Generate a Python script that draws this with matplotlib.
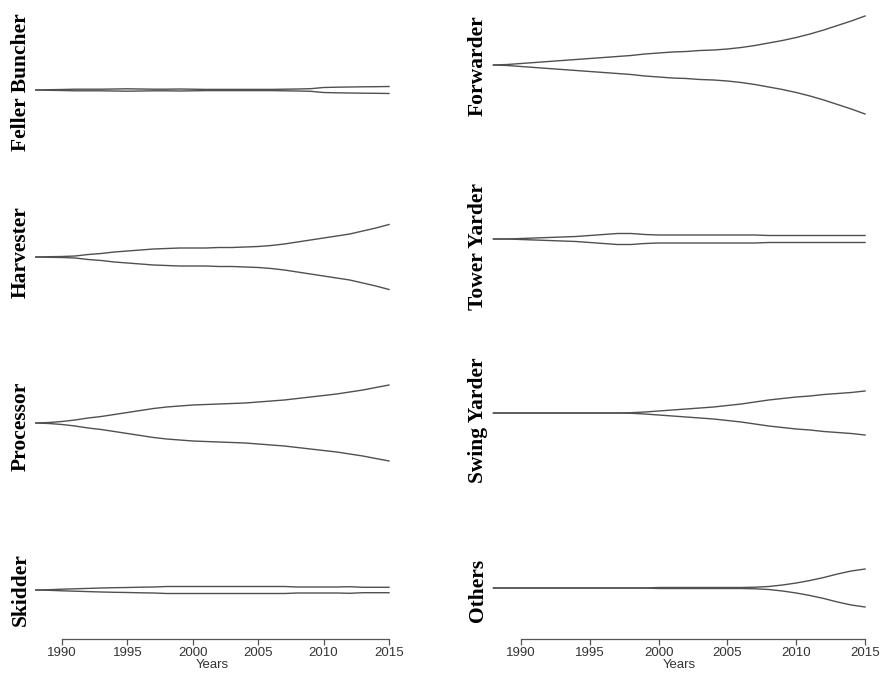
import numpy as np
import matplotlib
matplotlib.use("Agg")
import matplotlib.pyplot as plt

# Half-widths of each mirrored band (pixel-ish units)
years = list(range(1988, 2016))

feller_buncher = [0, 0.3, 0.5, 0.8, 0.8, 0.8, 1, 1.2, 1, 0.8, 0.8, 1, 0.8, 0.6,
                  0.6, 0.6, 0.6, 0.6, 0.6, 0.8, 1, 1.3, 2.5, 2.8, 3, 3.2, 3.3, 3.5]
harvester = [0, 0.3, 0.5, 1, 2.5, 3.5, 5, 6, 7, 8, 8.5, 9, 9, 9,
             9.5, 9.5, 10, 10.5, 11.5, 13, 15, 17, 19, 21, 23, 26, 29, 32.5]
processor = [0, 0.5, 1.5, 3, 5, 6.5, 8.5, 10.5, 12.5, 14.5, 16, 17, 18, 18.5,
             19, 19.5, 20, 21, 22, 23, 24.5, 26, 27.5, 29, 31, 33, 35.5, 38]
skidder = [0, 0.3, 0.8, 1.2, 1.6, 2, 2.3, 2.5, 2.8, 3, 3.5, 3.5, 3.5, 3.5,
           3.5, 3.5, 3.5, 3.5, 3.5, 3.5, 3, 3, 3, 3, 3.3, 2.7, 2.7, 2.7]
forwarder = [0, 0.5, 1.5, 2.5, 3.5, 4.5, 5.5, 6.5, 7.5, 8.5, 9.5, 11, 12, 13,
             13.5, 14.5, 15, 16, 17.5, 19.5, 22, 24.5, 27.5, 31, 35, 39.5, 44, 49]
tower_yarder = [0, 0, 0.5, 1, 1.5, 2, 2.5, 3.5, 4.5, 5.5, 5.5, 4.5, 4, 4,
                4, 4, 4, 4, 4, 4, 3.5, 3.5, 3.5, 3.5, 3.5, 3.5, 3.5, 3.5]
swing_yarder = [0, 0, 0, 0, 0, 0, 0, 0, 0, 0, 0.3, 1, 2, 3,
                4, 5, 6, 7.5, 9, 11, 13, 14.5, 16, 17, 18.5, 19.5, 20.5, 22]
others = [0, 0, 0, 0, 0, 0, 0, 0, 0, 0, 0, 0, 0.5, 0.5,
          0.5, 0.5, 0.5, 0.5, 0.5, 0.8, 1.5, 3, 5, 7.5, 10.5, 14, 17, 19]

left_names = ["Feller Buncher", "Harvester", "Processor", "Skidder"]
right_names = ["Forwarder", "Tower Yarder", "Swing Yarder", "Others"]
left_data = [feller_buncher, harvester, processor, skidder]
right_data = [forwarder, tower_yarder, swing_yarder, others]

W, H = 882, 678
fig = plt.figure(figsize=(W / 100, H / 100), dpi=100)

line_col = "#505050"
xlim = (1986.92, 2016.08)


def add_panel(x0, x1, center, half, vals, name, label_x, label_y,
              bottom=False, axis_y=None):
    # axes placed in pixel coords, 1 y-unit = 1 pixel
    if bottom:
        half_lo = axis_y - center
    else:
        half_lo = half
    ax = fig.add_axes([x0 / W, 1 - (center + half_lo) / H,
                       (x1 - x0) / W, (half + half_lo) / H])
    ax.set_xlim(*xlim)
    ax.set_ylim(-half_lo, half)
    v = np.array(vals)
    ax.plot(years, v, color=line_col, lw=1.0)
    ax.plot(years, -v, color=line_col, lw=1.0)
    for s in ["top", "right", "left"]:
        ax.spines[s].set_visible(False)
    ax.set_yticks([])
    if bottom:
        ax.spines["bottom"].set_bounds(1990, 2015)
        ax.spines["bottom"].set_color("#555555")
        ax.spines["bottom"].set_linewidth(0.9)
        ax.set_xticks([1990, 1995, 2000, 2005, 2010, 2015])
        ax.tick_params(axis="x", length=4, width=0.9, color="#555555",
                       pad=1.5, labelsize=9.5, labelcolor="#333333")
        for t in ax.get_xticklabels():
            t.set_fontfamily("Liberation Sans")
        ax.set_xlabel("Years", fontsize=9.5, color="#333333",
                      family="Liberation Sans", labelpad=0)
    else:
        ax.spines["bottom"].set_visible(False)
        ax.set_xticks([])
    fig.text(label_x / W, 1 - label_y / H, name, rotation=90, ha="center",
             va="center", family="Liberation Serif", fontweight="bold",
             fontsize=15.5, color="black")
    return ax


left_centers = [90, 257, 423, 590]
right_centers = [65, 239, 413, 588]
left_label_y = [82, 252, 426, 590]
right_label_y = [66, 246, 420, 590]

for i in range(4):
    add_panel(21.7, 403.1, left_centers[i], 60, left_data[i], left_names[i],
              21, left_label_y[i], bottom=(i == 3), axis_y=639)
    add_panel(478.6, 879.9, right_centers[i], 60, right_data[i], right_names[i],
              478, right_label_y[i], bottom=(i == 3), axis_y=639)

plt.savefig("out.png", dpi=100)
